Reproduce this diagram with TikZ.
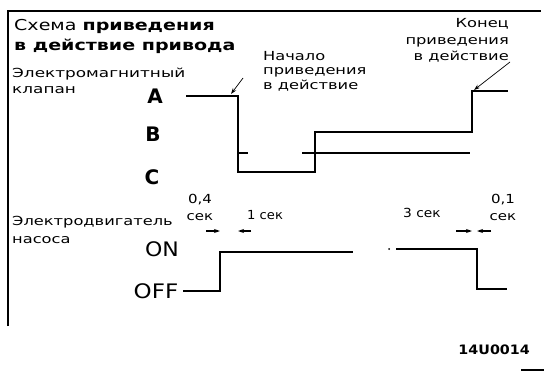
\documentclass[tikz,border=0pt]{standalone}
\usepackage{fontspec}
\setmainfont{DejaVu Sans}
\usepackage{graphicx}
\usetikzlibrary{arrows.meta}
\newcommand\wblock[3]{\scalebox{#1}[1]{\begin{tabular}{@{}#2@{}}#3\end{tabular}}}
\begin{document}
\begin{tikzpicture}[x=1pt,y=-1pt,
  sig/.style={line width=1.9pt, line join=miter},
  frm/.style={line width=1.8pt},
  txt/.style={inner sep=0pt},
  lvl/.style={inner sep=0pt, font=\fontsize{20}{20}\selectfont\bfseries},
  onoff/.style={inner sep=0pt, font=\fontsize{20}{20}\selectfont},
  lead/.style={line width=0.7pt, -{Stealth[length=6pt,width=4pt]}},
  dim/.style={line width=1.2pt, -{Stealth[length=6pt,width=4pt]}},
]
\useasboundingbox (0,0) rectangle (544,372);
\fill[white] (0,0) rectangle (544,372);

% frame fragments
\draw[frm] (8,326) -- (8,11) -- (541,11);
\draw[frm] (521,370) -- (544,370);

% texts
\node[txt, anchor=north west] (title) at (14,16)
  {\fontsize{15}{20}\selectfont\wblock{1.27}{l}{Схема \textbf{приведения}\\\textbf{в действие привода}}};
\node[txt, anchor=north west] (valve) at (12,66)
  {\fontsize{12.5}{16}\selectfont\wblock{1.35}{l}{Электромагнитный\\клапан}};
\node[txt, anchor=north west] (start) at (263,50)
  {\fontsize{12.5}{14.5}\selectfont\wblock{1.3}{l}{Начало\\приведения\\в действие}};
\node[txt, anchor=north east] (end) at (509,16)
  {\fontsize{12.5}{16.5}\selectfont\wblock{1.3}{r}{Конец\\приведения\\в действие}};
\node[txt, anchor=north west] (motor) at (12,213)
  {\fontsize{12.5}{18}\selectfont\wblock{1.3}{l}{Электродвигатель\\насоса}};

\node[lvl] (A) at (155,96) {A};
\node[lvl] (B) at (153,134) {B};
\node[lvl] (C) at (152,177) {C};
\node[onoff] (ON) at (162,249) {\scalebox{1.1}[1]{ON}};
\node[onoff] (OFF) at (156,291) {\scalebox{1.15}[1]{OFF}};

\node[txt, anchor=north] (t04) at (200,191)
  {\fontsize{12.5}{17}\selectfont\wblock{1.2}{c}{0,4\\сек}};
\node[txt, anchor=north west] (t1) at (247,210)
  {\fontsize{12.5}{17}\selectfont\scalebox{1.05}[1]{1 сек}};
\node[txt, anchor=north west] (t3) at (403,208)
  {\fontsize{12.5}{17}\selectfont\scalebox{1.1}[1]{3 сек}};
\node[txt, anchor=north] (t01) at (503,191)
  {\fontsize{12.5}{17}\selectfont\wblock{1.2}{c}{0,1\\сек}};
\node[txt, anchor=north east] (code) at (530,345)
  {\fontsize{13}{15}\selectfont\bfseries\scalebox{1.1}[1]{14U0014}};

% valve signal
\coordinate (v0) at (186,96);
\coordinate (v1) at (238,96);
\coordinate (v2) at (238,172);
\coordinate (v3) at (315,172);
\coordinate (v4) at (315,132);
\coordinate (v5) at (472,132);
\coordinate (v6) at (472,91);
\coordinate (v7) at (508,91);
\draw[sig] (v0) -- (v1) -- (v2) -- (v3) -- (v4) -- (v5) -- (v6) -- (v7);

% second line
\coordinate (b0) at (238,153);
\coordinate (b1) at (248,153);
\coordinate (b2) at (302,153);
\coordinate (b3) at (470,153);
\draw[sig] (b0) -- (b1);
\draw[sig] (b2) -- (b3);

% motor signal
\coordinate (m0) at (183,291);
\coordinate (m1) at (220,291);
\coordinate (m2) at (220,252);
\coordinate (m3) at (353,252);
\coordinate (m4) at (396,249);
\coordinate (m5) at (477,249);
\coordinate (m6) at (477,289);
\coordinate (m7) at (507,289);
\draw[sig] (m0) -- (m1) -- (m2) -- (m3);
\fill (389,249) circle (1pt);
\draw[sig] (m4) -- (m5) -- (m6) -- (m7);

% leaders
\coordinate (ls) at (243,78);
\coordinate (lst) at (231,94);
\draw[lead] (ls) -- (lst);
\coordinate (le) at (510,62);
\coordinate (let) at (474,90);
\draw[lead] (le) -- (let);

% dimension arrows
\coordinate (d1a) at (206,231);
\coordinate (d1b) at (251,231);
\coordinate (d2a) at (456,231);
\coordinate (d2b) at (491,231);
\draw[dim] (d1a) -- (m1 |- d1a);
\draw[dim] (d1b) -- (v1 |- d1b);
\draw[dim] (d2a) -- (v5 |- d2a);
\draw[dim] (d2b) -- (m5 |- d2b);
\end{tikzpicture}
\end{document}
